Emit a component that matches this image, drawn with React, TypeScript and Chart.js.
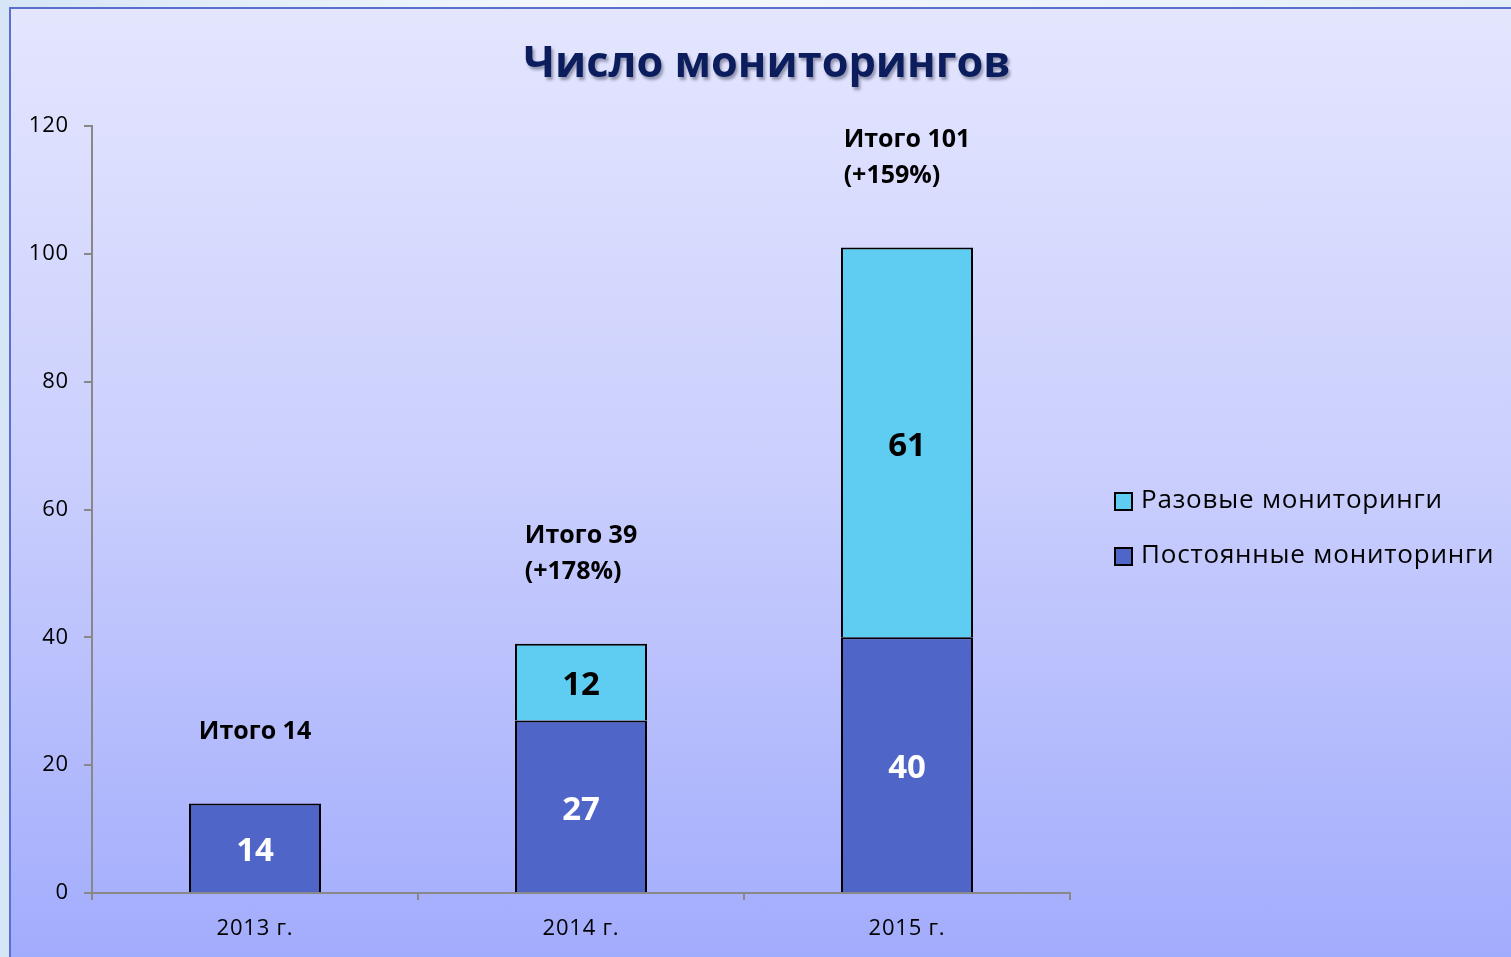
import React, { useEffect, useRef } from "react";
import { Chart, registerables } from "chart.js";

Chart.register(...registerables);

const title = "Число мониторингов";
const categories = ["2013 г.", "2014 г.", "2015 г."];
const permanentName = "Постоянные мониторинги";
const oneTimeName = "Разовые мониторинги";
const permanentValues = [14, 27, 40];
const oneTimeValues: (number | null)[] = [null, 12, 61];
const totalLabels = [["Итого 14"], ["Итого 39", "(+178%)"], ["Итого 101", "(+159%)"]];
const yMin = 0;
const yMax = 120;
const yStep = 20;

const FONT = "'Open Sans', 'Noto Sans', sans-serif";
const DARK = "#4F66C8";
const LIGHT = "#5FCDF2";

const spacingPlugin = {
  id: "spacing",
  beforeDraw(chart: any) {
    (chart.ctx as any).letterSpacing = "0.8px";
  },
};

const titlePlugin = {
  id: "titleShadow",
  afterDraw(chart: any) {
    const ctx = chart.ctx;
    ctx.save();
    (ctx as any).letterSpacing = "0px";
    ctx.font = `bold 43.3px ${FONT}`;
    ctx.textAlign = "center";
    ctx.textBaseline = "alphabetic";
    ctx.shadowColor = "rgba(0,0,30,0.35)";
    ctx.shadowOffsetX = 2;
    ctx.shadowOffsetY = 3;
    ctx.shadowBlur = 3;
    ctx.fillStyle = "#0C1D5E";
    ctx.fillText(title, 756, 68);
    ctx.restore();
  },
};

const valueLabelPlugin = {
  id: "valueLabels",
  afterDatasetsDraw(chart: any) {
    const ctx = chart.ctx;
    ctx.save();
    (ctx as any).letterSpacing = "0px";
    ctx.font = `bold 33px ${FONT}`;
    ctx.textAlign = "center";
    ctx.textBaseline = "middle";
    chart.data.datasets.forEach((ds: any, di: number) => {
      const meta = chart.getDatasetMeta(di);
      meta.data.forEach((el: any, i: number) => {
        const v = ds.data[i];
        if (v === null || v === undefined) return;
        ctx.fillStyle = ds.labelColor;
        ctx.fillText(String(v), el.x, (el.y + el.base) / 2 + 4);
      });
    });
    // totals above stacks
    ctx.font = `bold 25px ${FONT}`;
    ctx.fillStyle = "#000";
    ctx.textAlign = "left";
    const lineH = 36;
    categories.forEach((_, i) => {
      let top = Infinity;
      let cx = 0;
      chart.data.datasets.forEach((ds: any, di: number) => {
        const v = ds.data[i];
        if (v === null || v === undefined) return;
        const el = chart.getDatasetMeta(di).data[i];
        cx = el.x;
        top = Math.min(top, el.y);
      });
      const lines = totalLabels[i];
      const w = Math.max(...lines.map((l) => ctx.measureText(l).width));
      const x0 = cx - w / 2;
      lines.forEach((l, li) => {
        const y = top - 72 - (lines.length - 1 - li) * lineH;
        ctx.fillText(l, x0, y);
      });
    });
    ctx.restore();
  },
};

const legendPlugin = {
  id: "sideLegend",
  afterDraw(chart: any) {
    const ctx = chart.ctx;
    ctx.save();
    (ctx as any).letterSpacing = "0.8px";
    const items = [...chart.data.datasets].reverse();
    const boxX = 1104;
    const textX = 1130;
    const startY = 492;
    const gap = 55;
    ctx.font = `26px ${FONT}`;
    ctx.textBaseline = "middle";
    ctx.textAlign = "left";
    items.forEach((ds: any, i: number) => {
      const y = startY + i * gap;
      ctx.fillStyle = ds.backgroundColor;
      ctx.fillRect(boxX, y - 8, 17, 17);
      ctx.strokeStyle = "#000";
      ctx.lineWidth = 2;
      ctx.strokeRect(boxX, y - 8, 17, 17);
      ctx.fillStyle = "#000";
      ctx.fillText(ds.label, textX, y);
    });
    ctx.restore();
  },
};

export default function App() {
  const ref = useRef<HTMLCanvasElement | null>(null);

  useEffect(() => {
    if (!ref.current) return;
    const chart = new Chart(ref.current, {
      type: "bar",
      data: {
        labels: categories,
        datasets: [
          {
            label: permanentName,
            data: permanentValues,
            backgroundColor: DARK,
            borderColor: "#000",
            borderWidth: 2,
            labelColor: "#FFFFFF",
          } as any,
          {
            label: oneTimeName,
            data: oneTimeValues,
            backgroundColor: LIGHT,
            borderColor: "#000",
            borderWidth: 2,
            labelColor: "#000000",
          } as any,
        ],
      },
      options: {
        responsive: false,
        animation: false,
        devicePixelRatio: 1,
        layout: { padding: { left: 0, right: 441, top: 117, bottom: 0 } },
        datasets: { bar: { categoryPercentage: 1, barPercentage: 0.405 } },
        plugins: {
          legend: { display: false },
          title: { display: false },
          tooltip: { enabled: false },
        },
        scales: {
          x: {
            stacked: true,
            offset: true,
            grid: {
              offset: true,
              drawOnChartArea: false,
              color: "#888888",
              lineWidth: 2,
              tickLength: 7,
            },
            border: { color: "#888888", width: 2 },
            ticks: {
              color: "#000",
              font: { family: FONT, size: 22 },
              padding: 16,
            },
            afterFit(scale: any) {
              scale.height = 64;
            },
          },
          y: {
            stacked: true,
            min: yMin,
            max: yMax,
            grid: {
              drawOnChartArea: false,
              color: "#888888",
              lineWidth: 2,
              tickLength: 8,
            },
            border: { color: "#888888", width: 2 },
            ticks: {
              stepSize: yStep,
              color: "#000",
              font: { family: FONT, size: 22 },
              padding: 15,
            },
            afterFit(scale: any) {
              scale.width = 81;
            },
          },
        },
      },
      plugins: [spacingPlugin, valueLabelPlugin, legendPlugin, titlePlugin],
    });
    return () => chart.destroy();
  }, []);

  return (
    <div
      style={{
        position: "fixed",
        left: 0,
        top: 0,
        width: 1511,
        height: 957,
        background: "linear-gradient(to right, #D6E6F7, #F4F8FC 40%, #E4EEF8)",
        overflow: "hidden",
      }}
    >
      <div
        style={{
          position: "absolute",
          left: 9,
          top: 7,
          width: 1502,
          height: 950,
          boxSizing: "border-box",
          borderTop: "2px solid #5A6FD0",
          borderLeft: "2px solid #5A6FD0",
          background: "linear-gradient(to bottom, #E4E6FE 0%, #C9CEFD 50%, #A2ACFC 100%)",
        }}
      >
        <canvas ref={ref} width={1500} height={948} style={{ display: "block", width: 1500, height: 948 }} />
      </div>
    </div>
  );
}
